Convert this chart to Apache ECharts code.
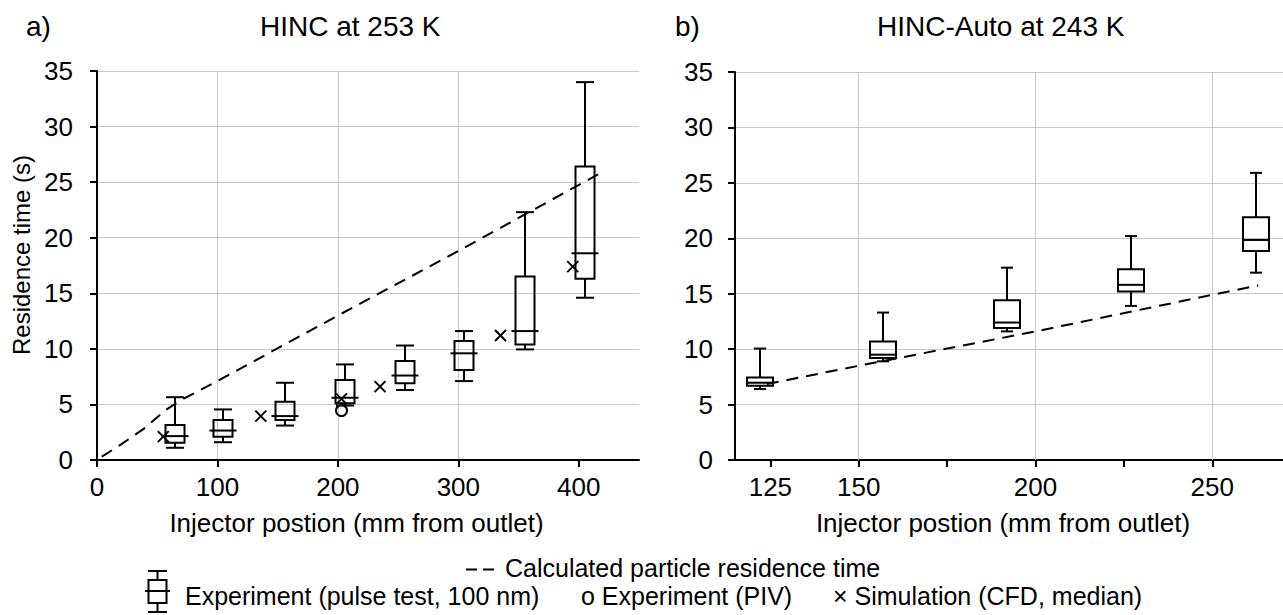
<!DOCTYPE html>
<html>
<head>
<meta charset="utf-8">
<script src="https://cdn.jsdelivr.net/npm/echarts@6/dist/echarts.min.js"></script>
<style>
html,body{margin:0;padding:0;background:#fff;}
#chart{width:1283px;height:615px;}
</style>
</head>
<body>
<div id="chart"></div>
<script>
// ---------- Panel a) HINC at 253 K ----------
const boxPosA   = [65, 105, 156, 206, 256, 305, 355, 405];
const boxLowA   = [1.1, 1.6, 3.1, 4.9, 6.3, 7.1, 9.95, 14.6];
const boxQ1A    = [1.55, 2.1, 3.6, 5.1, 6.9, 8.1, 10.4, 16.3];
const boxMedA   = [2.15, 2.65, 3.95, 5.6, 7.6, 9.6, 11.6, 18.6];
const boxQ3A    = [3.15, 3.6, 5.25, 7.2, 8.9, 10.7, 16.5, 26.4];
const boxHighA  = [5.65, 4.55, 6.95, 8.6, 10.3, 11.6, 22.3, 34.0];
const simPosA   = [55, 136, 203, 235, 335, 395];
const simValA   = [2.1, 3.95, 5.5, 6.6, 11.2, 17.4];
const pivPosA   = [203];
const pivValA   = [4.45];
const calcPosA  = [4, 20, 40, 57, 70, 100, 200, 300, 416];
const calcValA  = [0.3, 1.4, 2.9, 4.5, 5.4, 7.1, 13.0, 18.8, 25.7];
const xTicksA   = [0, 100, 200, 300, 400];

// ---------- Panel b) HINC-Auto at 243 K ----------
const boxPosB   = [122, 157, 192, 227, 262.5];
const boxLowB   = [6.4, 8.9, 11.6, 13.9, 16.9];
const boxQ1B    = [6.7, 9.2, 11.9, 15.2, 18.85];
const boxMedB   = [6.97, 9.5, 12.4, 15.8, 19.85];
const boxQ3B    = [7.45, 10.7, 14.4, 17.2, 21.9];
const boxHighB  = [10.05, 13.3, 17.35, 20.2, 25.9];
const calcPosB  = [124, 150, 200, 250, 263];
const calcValB  = [6.85, 8.5, 11.6, 14.9, 15.75];
const xTicksB   = [125, 150, 175, 200, 225, 250];
const xLabelsB  = [125, 150, 200, 250];
const xGridB    = [150, 200, 250];

// ---------- texts ----------
const titleA = 'HINC at 253 K';
const titleB = 'HINC-Auto at 243 K';
const xName = 'Injector postion (mm from outlet)';
const yName = 'Residence time (s)';
const legCalc = 'Calculated particle residence time';
const legBox = 'Experiment (pulse test, 100 nm)';
const legPiv = 'o Experiment (PIV)';
const legSim = '\u00d7 Simulation (CFD, median)';

const FONT = '"Liberation Sans", Arial, Helvetica, sans-serif';
const BLACK = '#000';
const GRID = '#c8c8c8';

function zip(a, b) { return a.map((v, i) => [v, b[i]]); }
function boxData(pos, lo, q1, md, q3, hi) {
  return pos.map((p, i) => [p, lo[i], q1[i], md[i], q3[i], hi[i]]);
}

function boxRenderer(boxW, medW, capW) {
  return function (params, api) {
    const x = api.value(0);
    const lo = api.coord([x, api.value(1)]);
    const q1 = api.coord([x, api.value(2)]);
    const md = api.coord([x, api.value(3)]);
    const q3 = api.coord([x, api.value(4)]);
    const hi = api.coord([x, api.value(5)]);
    const cx = Math.round(lo[0]);
    const st = { stroke: BLACK, lineWidth: 2, fill: null };
    return {
      type: 'group',
      children: [
        { type: 'line', shape: { x1: cx, y1: hi[1], x2: cx, y2: q3[1] }, style: st },
        { type: 'line', shape: { x1: cx, y1: q1[1], x2: cx, y2: lo[1] }, style: st },
        { type: 'line', shape: { x1: cx - capW / 2, y1: hi[1], x2: cx + capW / 2, y2: hi[1] }, style: st },
        { type: 'line', shape: { x1: cx - capW / 2, y1: lo[1], x2: cx + capW / 2, y2: lo[1] }, style: st },
        { type: 'rect', shape: { x: cx - boxW / 2, y: q3[1], width: boxW, height: q1[1] - q3[1] }, style: st },
        { type: 'line', shape: { x1: cx - medW / 2, y1: md[1], x2: cx + medW / 2, y2: md[1] }, style: st }
      ]
    };
  };
}

function crossRenderer(half) {
  return function (params, api) {
    const p = api.coord([api.value(0), api.value(1)]);
    const st = { stroke: BLACK, lineWidth: 2 };
    return {
      type: 'group',
      children: [
        { type: 'line', shape: { x1: p[0] - half, y1: p[1] - half, x2: p[0] + half, y2: p[1] + half }, style: st },
        { type: 'line', shape: { x1: p[0] - half, y1: p[1] + half, x2: p[0] + half, y2: p[1] - half }, style: st }
      ]
    };
  };
}

const axisLineStyle = { color: BLACK, width: 2 };

function makeYAxis(gridIndex, margin, name) {
  return {
    type: 'value', gridIndex: gridIndex, min: 0, max: 35, interval: 5,
    name: name || '',
    nameLocation: 'middle', nameGap: 64,
    nameTextStyle: { fontSize: 24, color: BLACK, fontFamily: FONT, padding: [0, 0, 0, 21] },
    axisLine: { show: true, onZero: false, lineStyle: axisLineStyle },
    axisTick: { show: true, inside: false, length: 7, lineStyle: axisLineStyle },
    axisLabel: { show: true, fontSize: 26, color: BLACK, fontFamily: FONT, margin: margin },
    splitLine: { show: true, showMinLine: false, showMaxLine: true, lineStyle: { color: GRID, width: 1 } }
  };
}

function legendText(x, y, text) {
  return { type: 'text', x: x, y: y, style: { text: text, font: '25px ' + FONT, fill: BLACK, lineHeight: 22, verticalAlign: 'middle', textVerticalAlign: 'middle' } };
}

const option = {
  animation: false,
  backgroundColor: '#fff',
  title: [
    { text: 'a)', left: 26, top: 12, padding: 0, textStyle: { fontSize: 28, fontWeight: 'normal', color: BLACK, fontFamily: FONT } },
    { text: titleA, left: 260, top: 12, padding: 0, textStyle: { fontSize: 28, fontWeight: 'normal', color: BLACK, fontFamily: FONT } },
    { text: 'b)', left: 675, top: 12, padding: 0, textStyle: { fontSize: 28, fontWeight: 'normal', color: BLACK, fontFamily: FONT } },
    { text: titleB, left: 877, top: 12, padding: 0, textStyle: { fontSize: 28, fontWeight: 'normal', color: BLACK, fontFamily: FONT } }
  ],
  grid: [
    { left: 97, top: 71, width: 542, height: 389, containLabel: false, outerBoundsMode: 'none' },
    { left: 735, top: 72, width: 548, height: 388, containLabel: false, outerBoundsMode: 'none' }
  ],
  xAxis: [
    {
      type: 'value', gridIndex: 0, min: 0, max: 450, interval: 100,
      name: xName, nameLocation: 'middle', nameGap: 50,
      nameTextStyle: { fontSize: 26, color: BLACK, fontFamily: FONT, padding: [0, 23, 0, 0] },
      axisLine: { show: true, onZero: false, lineStyle: axisLineStyle },
      axisTick: { show: true, inside: false, length: 7, lineStyle: axisLineStyle, customValues: xTicksA },
      axisLabel: { show: true, fontSize: 26, color: BLACK, fontFamily: FONT, margin: 14, customValues: xTicksA },
      splitLine: { show: true, showMinLine: false, showMaxLine: false, lineStyle: { color: GRID, width: 1 } }
    },
    {
      type: 'value', gridIndex: 1, min: 115, max: 270,
      name: xName, nameLocation: 'middle', nameGap: 50,
      nameTextStyle: { fontSize: 26, color: BLACK, fontFamily: FONT, padding: [0, 12, 0, 0] },
      axisLine: { show: true, onZero: false, lineStyle: axisLineStyle },
      axisTick: { show: true, inside: false, length: 7, lineStyle: axisLineStyle, customValues: xTicksB },
      axisLabel: { show: true, fontSize: 26, color: BLACK, fontFamily: FONT, margin: 14, customValues: xLabelsB },
      splitLine: { show: false }
    }
  ],
  yAxis: [ makeYAxis(0, 24, yName), makeYAxis(1, 22, '') ],
  series: [
    {
      name: legCalc, type: 'line', xAxisIndex: 0, yAxisIndex: 0,
      data: zip(calcPosA, calcValA), symbol: 'none', z: 2,
      lineStyle: { color: BLACK, width: 2, type: [12, 8] }
    },
    {
      name: legBox, type: 'custom', xAxisIndex: 0, yAxisIndex: 0, z: 3,
      data: boxData(boxPosA, boxLowA, boxQ1A, boxMedA, boxQ3A, boxHighA),
      encode: { x: 0, y: [1, 2, 3, 4, 5] },
      renderItem: boxRenderer(19, 27, 18)
    },
    {
      name: 'Experiment (PIV)', type: 'scatter', xAxisIndex: 0, yAxisIndex: 0, z: 4,
      data: zip(pivPosA, pivValA), symbol: 'circle', symbolSize: 11,
      itemStyle: { color: 'rgba(255,255,255,0)', borderColor: BLACK, borderWidth: 2, opacity: 1 }
    },
    {
      name: 'Simulation (CFD, median)', type: 'custom', xAxisIndex: 0, yAxisIndex: 0, z: 4,
      data: zip(simPosA, simValA), encode: { x: 0, y: 1 },
      renderItem: crossRenderer(5.5)
    },
    {
      name: legCalc + ' b', type: 'line', xAxisIndex: 1, yAxisIndex: 1,
      data: zip(calcPosB, calcValB), symbol: 'none', z: 2,
      lineStyle: { color: BLACK, width: 2, type: [12, 8] },
      markLine: {
        silent: true, symbol: 'none', label: { show: false },
        lineStyle: { color: GRID, width: 1, type: 'solid' },
        data: xGridB.map(v => ({ xAxis: v }))
      }
    },
    {
      name: legBox + ' b', type: 'custom', xAxisIndex: 1, yAxisIndex: 1, z: 3,
      data: boxData(boxPosB, boxLowB, boxQ1B, boxMedB, boxQ3B, boxHighB),
      encode: { x: 0, y: [1, 2, 3, 4, 5] },
      renderItem: boxRenderer(26, 26, 12)
    }
  ],
  graphic: [
    { type: 'line', shape: { x1: 466, y1: 569.5, x2: 494, y2: 569.5 }, style: { stroke: BLACK, lineWidth: 2, lineDash: [11, 6] } },
    legendText(505, 567.5, legCalc),
    { type: 'group', children: [
      { type: 'line', shape: { x1: 148, y1: 571, x2: 167, y2: 571 }, style: { stroke: BLACK, lineWidth: 2 } },
      { type: 'line', shape: { x1: 157.5, y1: 571, x2: 157.5, y2: 580 }, style: { stroke: BLACK, lineWidth: 2 } },
      { type: 'rect', shape: { x: 148.5, y: 580, width: 18, height: 23 }, style: { stroke: BLACK, lineWidth: 2, fill: null } },
      { type: 'line', shape: { x1: 145, y1: 591, x2: 170, y2: 591 }, style: { stroke: BLACK, lineWidth: 2 } },
      { type: 'line', shape: { x1: 157.5, y1: 603, x2: 157.5, y2: 612 }, style: { stroke: BLACK, lineWidth: 2 } },
      { type: 'line', shape: { x1: 148, y1: 612, x2: 167, y2: 612 }, style: { stroke: BLACK, lineWidth: 2 } }
    ] },
    legendText(185, 595.5, legBox),
    legendText(581, 595.5, legPiv),
    legendText(833, 595.5, legSim)
  ]
};

const chart = echarts.init(document.getElementById('chart'), null, { renderer: 'svg', width: 1283, height: 615 });
chart.setOption(option);
</script>
</body>
</html>
